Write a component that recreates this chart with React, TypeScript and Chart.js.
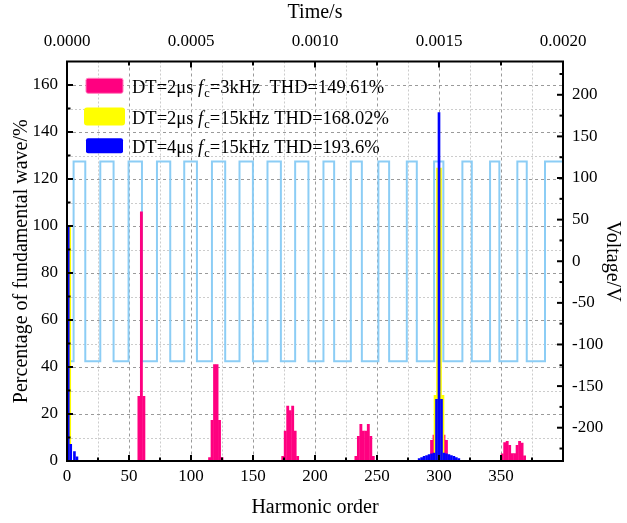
import React, { useEffect, useRef } from 'react';
import { Chart, registerables } from 'chart.js';

Chart.register(...registerables);

const FONT = '"Liberation Serif", "Times New Roman", serif';

// Axis tick labels
const HARMONIC_TICKS = [0, 50, 100, 150, 200, 250, 300, 350];
const TIME_TICKS = [0, 0.0005, 0.001, 0.0015, 0.002];
const PERCENT_TICKS = [0, 20, 40, 60, 80, 100, 120, 140, 160];
const VOLT_TICKS = [-200, -150, -100, -50, 0, 50, 100, 150, 200];

// Series 1: DT=2us fc=3kHz (pink)
const PINK_ORDERS = [1, 58, 60, 62, 115, 117, 119, 121, 123, 125, 174, 176, 178, 180, 182, 184, 186,
  233, 235, 237, 239, 241, 243, 245, 247, 294, 296, 298, 300, 302, 304, 306,
  351, 353, 355, 357, 359, 361, 363, 365, 367, 369];
const PINK_VALUES = [100, 27.5, 106, 27.5, 1.5, 17.3, 41, 41, 17.3, 1.5, 2, 12.7, 23.4, 21.5, 23.4, 12.7, 2,
  2, 10.5, 15.6, 12.7, 12.7, 15.6, 10.5, 2, 8.8, 11, 5, 3, 5, 11, 8.8,
  3.1, 7.8, 8.4, 6.7, 3.2, 3.2, 6.7, 8.4, 7.6, 2.2];

// Series 2: DT=2us fc=15kHz (yellow)
const YELLOW_ORDERS = [1, 298, 300, 302];
const YELLOW_VALUES = [100, 27.9, 124.6, 27.9];

// Series 3: DT=4us fc=15kHz (blue)
const BLUE_ORDERS = [1, 3, 6, 8, 284, 286, 288, 290, 292, 294, 296, 298, 300, 302, 304, 306, 308, 310, 312, 314, 316];
const BLUE_VALUES = [100, 7.1, 4, 1.8, 1, 1.5, 2, 2.3, 2.7, 3.1, 3.4, 26.2, 148.3, 26.2, 3.4, 3.1, 2.7, 2.3, 2, 1.5, 1];

// Output voltage waveform (time in s, voltage in V), stepped
const WAVE_TIME = [0, 0.0000266, 0.0000737, 0.0001342, 0.0001878, 0.0002482, 0.0003022, 0.0003627, 0.0004163,
  0.0004727, 0.0005239, 0.0005844, 0.0006379, 0.0006956, 0.0007496, 0.0008084, 0.0008624, 0.00092,
  0.0009736, 0.0010341, 0.0010772, 0.0011445, 0.0011889, 0.0012557, 0.0012989, 0.0013702, 0.0014105,
  0.0014802, 0.0015177, 0.0015943, 0.0016322, 0.0017059, 0.0017434, 0.0018159, 0.0018538, 0.0019275,
  0.0019678, 0.002];
const WAVE_VOLT = [120, -120, 120, -120, 120, -120, 120, -120, 120,
  -120, 120, -120, 120, -120, 120, -120, 120, -120,
  120, -120, 120, -120, 120, -120, 120, -120, 120,
  -120, 120, -120, 120, -120, 120, -120, 120, -120,
  120, 120];

// Legend texts
const LEGEND_HEAD = ['DT=2μs ', 'DT=2μs ', 'DT=4μs '];
const LEGEND_TAIL = ['=3kHz  THD=149.61%', '=15kHz THD=168.02%', '=15kHz THD=193.6%'];

const PINK = '#FF0080';
const YELLOW = '#FFFF00';
const BLUE = '#0000FF';
const WAVE = '#8CCDF5';

const framePlugin = {
  id: 'frameGrid',
  beforeDatasetsDraw(chart: any) {
    const { ctx, chartArea } = chart;
    const { left, right, top, bottom } = chartArea;
    const xs = chart.scales.x;
    const ys = chart.scales.y;
    ctx.save();
    ctx.lineWidth = 1;
    for (let v = 25; v < 400; v += 25) {
      const px = Math.round(xs.getPixelForValue(v)) + 0.5;
      const major = v % 50 === 0;
      ctx.strokeStyle = major ? '#9a9a9a' : '#cccccc';
      ctx.setLineDash(major ? [3, 3] : [2, 2]);
      ctx.beginPath();
      ctx.moveTo(px, top);
      ctx.lineTo(px, bottom);
      ctx.stroke();
    }
    for (let v = 10; v < 170; v += 10) {
      const py = Math.round(ys.getPixelForValue(v)) + 0.5;
      const major = v % 20 === 0;
      ctx.strokeStyle = major ? '#9a9a9a' : '#cccccc';
      ctx.setLineDash(major ? [3, 3] : [2, 2]);
      ctx.beginPath();
      ctx.moveTo(left, py);
      ctx.lineTo(right, py);
      ctx.stroke();
    }
    ctx.restore();
  },
  afterDatasetsDraw(chart: any) {
    const { ctx, chartArea } = chart;
    const { left, right, top, bottom } = chartArea;
    const xs = chart.scales.x;
    const xt = chart.scales.xTop;
    const ys = chart.scales.y;
    const yr = chart.scales.yRight;
    ctx.save();
    ctx.strokeStyle = '#000';
    const tick = (x1: number, y1: number, x2: number, y2: number, w: number) => {
      ctx.lineWidth = w;
      ctx.beginPath();
      ctx.moveTo(x1, y1);
      ctx.lineTo(x2, y2);
      ctx.stroke();
    };
    for (let v = 25; v < 400; v += 25) {
      const px = xs.getPixelForValue(v);
      const major = v % 50 === 0;
      tick(px, bottom, px, bottom - (major ? 6 : 3.5), 2);
    }
    for (let i = 1; i < 8; i++) {
      const px = xt.getPixelForValue(i * 0.00025);
      const major = i % 2 === 0;
      tick(px, top, px, top + (major ? 6 : 4), 2);
    }
    for (let v = 10; v < 170; v += 10) {
      const py = ys.getPixelForValue(v);
      const major = v % 20 === 0;
      tick(left, py, left + (major ? 6 : 3.5), py, 2);
    }
    for (let v = -225; v <= 225; v += 25) {
      const py = yr.getPixelForValue(v);
      const major = v % 50 === 0;
      tick(right, py, right - (major ? 6 : 3.5), py, 2);
    }
    ctx.lineWidth = 2;
    ctx.strokeRect(left, top, right - left, bottom - top);
    ctx.restore();
  },
  afterDraw(chart: any) {
    const { ctx } = chart;
    const colors = [PINK, YELLOW, BLUE];
    const baselines = [93.3, 124, 153.3];
    ctx.save();
    for (let i = 0; i < 3; i++) {
      const b = baselines[i];
      const cy = b - 7.5;
      // legend swatch
      ctx.fillStyle = colors[i];
      if (i === 1) {
        ctx.beginPath();
        ctx.roundRect(84, cy - 9, 41, 18, 3);
        ctx.fill();
      } else {
        ctx.beginPath();
        ctx.roundRect(86, cy - 7.5, 37, 15, 2);
        ctx.fill();
        if (i === 0) {
          ctx.strokeStyle = '#ff7fbf';
          ctx.lineWidth = 1;
          ctx.stroke();
        }
      }
      // text
      ctx.fillStyle = '#000';
      ctx.textBaseline = 'alphabetic';
      ctx.textAlign = 'left';
      let x = 132;
      ctx.font = `18.5px ${FONT}`;
      ctx.fillText(LEGEND_HEAD[i], x, b);
      x += ctx.measureText(LEGEND_HEAD[i]).width;
      ctx.font = `italic 18.5px ${FONT}`;
      ctx.fillText('f', x, b);
      x += ctx.measureText('f').width + 1;
      ctx.font = `12.5px ${FONT}`;
      ctx.fillText('c', x, b + 4);
      x += ctx.measureText('c').width;
      ctx.font = `18.5px ${FONT}`;
      ctx.fillText(LEGEND_TAIL[i], x, b);
    }
    ctx.restore();
  },
};

const tickFont = { family: FONT, size: 17 };
const titleFont = { family: FONT, size: 20 };

export default function App() {
  const ref = useRef<HTMLCanvasElement | null>(null);
  useEffect(() => {
    document.body.style.margin = '0';
    const canvas = ref.current;
    if (!canvas) return;
    const chart = new Chart(canvas, {
      type: 'bar',
      data: {
        datasets: [
          {
            type: 'line',
            label: 'Voltage',
            data: WAVE_TIME.map((t, i) => ({ x: t, y: WAVE_VOLT[i] })),
            xAxisID: 'xTop',
            yAxisID: 'yRight',
            stepped: 'after',
            borderColor: WAVE,
            borderWidth: 2,
            pointRadius: 0,
            fill: false,
            order: 3,
          } as any,
          {
            label: 'DT=2μs fc=3kHz THD=149.61%',
            data: PINK_ORDERS.map((x, i) => ({ x, y: PINK_VALUES[i] })),
            xAxisID: 'x',
            yAxisID: 'y',
            backgroundColor: PINK,
            borderWidth: 0,
            barThickness: 2.2,
            grouped: false,
            order: 2,
          },
          {
            label: 'DT=2μs fc=15kHz THD=168.02%',
            data: YELLOW_ORDERS.map((x, i) => ({ x, y: YELLOW_VALUES[i] })),
            xAxisID: 'x',
            yAxisID: 'y',
            backgroundColor: YELLOW,
            borderWidth: 0,
            barThickness: 5,
            grouped: false,
            order: 1,
          },
          {
            label: 'DT=4μs fc=15kHz THD=193.6%',
            data: BLUE_ORDERS.map((x, i) => ({ x, y: BLUE_VALUES[i] })),
            xAxisID: 'x',
            yAxisID: 'y',
            backgroundColor: BLUE,
            borderWidth: 0,
            barThickness: 2,
            grouped: false,
            order: 0,
          },
        ],
      } as any,
      options: {
        animation: false,
        responsive: false,
        maintainAspectRatio: false,
        layout: { padding: 0 },
        plugins: { legend: { display: false }, tooltip: { enabled: false } },
        scales: {
          x: {
            type: 'linear',
            position: 'bottom',
            min: 0,
            max: 400,
            offset: false,
            afterBuildTicks: (s: any) => { s.ticks = HARMONIC_TICKS.map((v) => ({ value: v })); },
            afterFit: (s: any) => { s.height = 62; },
            grid: { display: false, drawTicks: false, offset: false },
            border: { display: false },
            ticks: { font: tickFont, color: '#000', padding: 5, maxRotation: 0, minRotation: 0, autoSkip: false },
            title: { display: true, text: 'Harmonic order', font: titleFont, color: '#000', padding: { top: 0, bottom: 3 } },
          },
          xTop: {
            type: 'linear',
            position: 'top',
            min: 0,
            max: 0.002,
            offset: false,
            afterBuildTicks: (s: any) => { s.ticks = TIME_TICKS.map((v) => ({ value: v })); },
            afterFit: (s: any) => { s.height = 61.5; },
            grid: { display: false, drawTicks: false },
            border: { display: false },
            ticks: {
              font: tickFont, color: '#000', padding: 10, maxRotation: 0, minRotation: 0, autoSkip: false,
              callback: (v: any) => Number(v).toFixed(4),
            },
            title: { display: true, text: 'Time/s', font: titleFont, color: '#000', padding: { top: 1, bottom: 0 } },
          },
          y: {
            type: 'linear',
            position: 'left',
            min: 0,
            max: 170,
            afterBuildTicks: (s: any) => { s.ticks = PERCENT_TICKS.map((v) => ({ value: v })); },
            afterFit: (s: any) => { s.width = 67; },
            grid: { display: false, drawTicks: false },
            border: { display: false },
            ticks: { font: tickFont, color: '#000', padding: 9 },
            title: { display: true, text: 'Percentage of fundamental wave/%', font: titleFont, color: '#000', padding: { top: 10, bottom: 0 } },
          },
          yRight: {
            type: 'linear',
            position: 'right',
            min: -240,
            max: 240,
            afterBuildTicks: (s: any) => { s.ticks = VOLT_TICKS.map((v) => ({ value: v })); },
            afterFit: (s: any) => { s.width = 64; },
            grid: { display: false, drawTicks: false },
            border: { display: false },
            ticks: { font: tickFont, color: '#000', padding: 9 },
            title: { display: true, text: 'Voltage/V', font: titleFont, color: '#000', padding: { top: 3, bottom: 0 } },
          },
        },
      } as any,
      plugins: [framePlugin],
    });
    return () => chart.destroy();
  }, []);
  return (
    <div style={{ width: 627, height: 523 }}>
      <canvas ref={ref} width={627} height={523} style={{ display: 'block', width: 627, height: 523 }} />
    </div>
  );
}
